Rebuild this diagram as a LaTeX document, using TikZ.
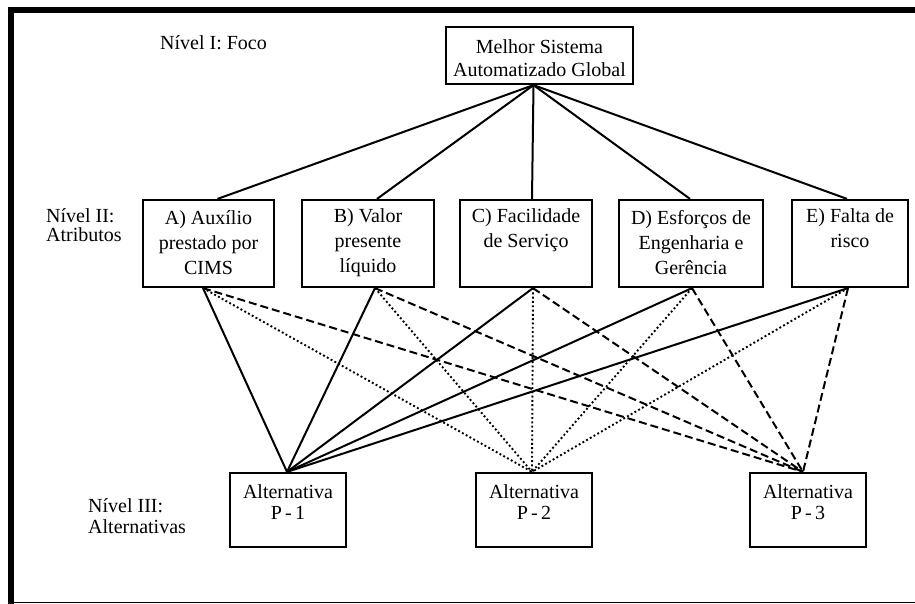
\documentclass[tikz,border=0pt]{standalone}
\usepackage{fontspec}
\setmainfont{Liberation Serif}
\begin{document}
\begin{tikzpicture}[x=1pt,y=-1pt,
  box/.style={draw, line width=2.2pt, inner sep=0pt},
  lbl/.style={inner sep=0pt, align=center, font=\fontsize{20}{25}\selectfont},
  side/.style={inner sep=0pt, align=left, anchor=west},
  link/.style={line width=2pt},
  linkdot/.style={line width=1.9pt, dash pattern=on 1.9pt off 2.4pt},
  linkdash/.style={line width=2pt, dash pattern=on 8pt off 4pt},
  frame/.style={line cap=rect}
]
\useasboundingbox (0,0) rectangle (915,604);

% outer frame
\draw[frame, line width=6pt] (11,604) -- (11,10) -- (915,10);
\draw[line width=1.2pt] (11,602.5) -- (915,602.5);

% level labels
\node[side, font=\fontsize{20}{24}\selectfont] (l1) at (160,43) {Nível I: Foco};
\node[side, font=\fontsize{20}{18.5}\selectfont] (l2) at (46,225) {Nível II:\\Atributos};
\node[side, font=\fontsize{20}{21.5}\selectfont] (l3) at (88,516) {Nível III:\\Alternativas};

% boxes
\node[box, minimum width=187pt, minimum height=57pt] (T) at (539.5,55.5) {};
\node[box, minimum width=131pt, minimum height=87pt] (A) at (208.5,243.5) {};
\node[box, minimum width=132pt, minimum height=87pt] (B) at (368,243.5) {};
\node[box, minimum width=132pt, minimum height=87pt] (C) at (526,243.5) {};
\node[box, minimum width=144pt, minimum height=87pt] (D) at (691,243.5) {};
\node[box, minimum width=116pt, minimum height=87pt] (E) at (850,243.5) {};
\node[box, minimum width=116pt, minimum height=74pt] (P1) at (288,510) {};
\node[box, minimum width=116pt, minimum height=74pt] (P2) at (534,510) {};
\node[box, minimum width=116pt, minimum height=74pt] (P3) at (808,510) {};

% box texts
\node[lbl, font=\fontsize{20}{23}\selectfont] (Tt) at (539.5,58.5) {Melhor Sistema\\Automatizado Global};
\node[lbl] (At) at (208.5,243) {A) Auxílio\\prestado por\\CIMS};
\node[lbl] (Bt) at (368,243) {B) Valor\\presente\\líquido};
\node[lbl] (Ct) at (526,230.5) {C) Facilidade\\de Serviço};
\node[lbl] (Dt) at (691,243) {D) Esforços de\\Engenharia e\\Gerência};
\node[lbl] (Et) at (850,228.5) {E) Falta de\\risco};
\node[lbl, font=\fontsize{20}{20.5}\selectfont] (P1t) at (288,502) {Alternativa\\P\,-\,1};
\node[lbl, font=\fontsize{20}{20.5}\selectfont] (P2t) at (534,502) {Alternativa\\P\,-\,2};
\node[lbl, font=\fontsize{20}{20.5}\selectfont] (P3t) at (808,502) {Alternativa\\P\,-\,3};

% connector end points
\coordinate (hub) at ([xshift=-6pt]T.south);
\coordinate (Ain) at ([xshift=9pt]A.north);
\coordinate (Bin) at ([xshift=9pt]B.north);
\coordinate (Cin) at ([xshift=6pt]C.north);
\coordinate (Din) at ([xshift=-1pt]D.north);
\coordinate (Ein) at ([xshift=-3pt]E.north);
\coordinate (Aout) at ([xshift=-5.5pt]A.south);
\coordinate (Bout) at ([xshift=7pt]B.south);
\coordinate (Cout) at ([xshift=7pt]C.south);
\coordinate (Dout) at ([xshift=1pt]D.south);
\coordinate (Eout) at ([xshift=-2pt]E.south);
\coordinate (P1in) at ([xshift=-1pt]P1.north);
\coordinate (P2in) at ([xshift=-2pt]P2.north);
\coordinate (P3in) at ([xshift=-5pt]P3.north);

% focus to attributes
\foreach \k in {A,B,C,D,E}
  \draw[link] (hub) -- (\k in);

% attributes to alternatives
\foreach \k in {A,B,C,D,E} {
  \draw[link] (\k out) -- (P1in);
  \draw[linkdot] (\k out) -- (P2in);
  \draw[linkdash] (\k out) -- (P3in);
}
\end{tikzpicture}
\end{document}
